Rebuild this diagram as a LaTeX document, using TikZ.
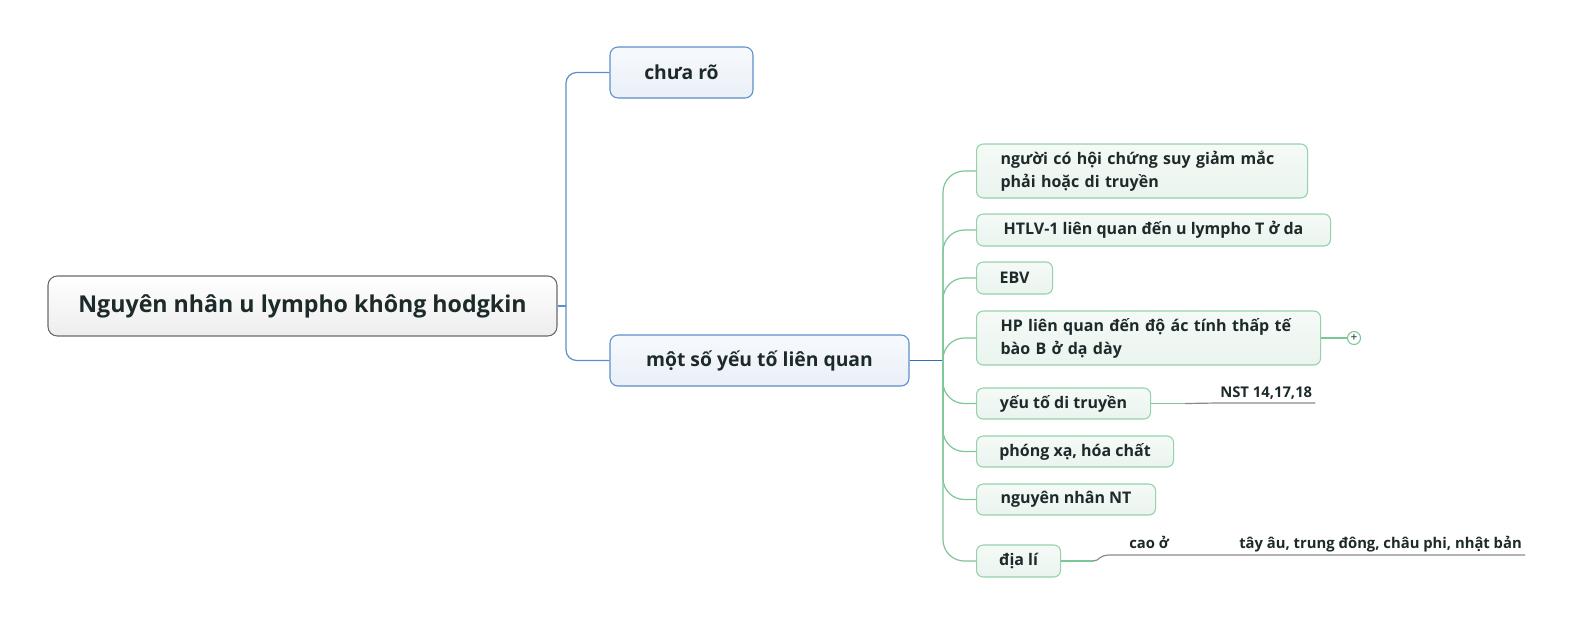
\documentclass[tikz,border=0pt]{standalone}
\usepackage{fontspec}
\setmainfont{Open Sans}
\usepackage{tikz}
\usepackage{xcolor}
\definecolor{inkc}{HTML}{1D2A2A}
\definecolor{rootln}{HTML}{6A6A6A}
\definecolor{rootfill}{HTML}{EDEDED}
\definecolor{blueln}{HTML}{5B8FCB}
\definecolor{bluedk}{HTML}{2F6DB5}
\definecolor{bluetop}{HTML}{F7F9FD}
\definecolor{bluefill}{HTML}{EAF0F8}
\definecolor{greenln}{HTML}{7CC697}
\definecolor{greenbd}{HTML}{95D2AB}
\definecolor{greentop}{HTML}{F5FAF6}
\definecolor{greenfill}{HTML}{EAF4EE}
\definecolor{grayln}{HTML}{8A8A8A}

\begin{document}
\begin{tikzpicture}[x=0.75pt, y=-0.75pt,
    every node/.style={text=inkc, font=\bfseries},
    rootbox/.style={draw=rootln, line width=0.8pt, rounded corners=7pt, top color=white, bottom color=rootfill, font=\bfseries\fontsize{17.4}{20}\selectfont},
    mainbox/.style={draw=blueln, line width=0.8pt, rounded corners=6pt, top color=bluetop, bottom color=bluefill, minimum height=38.25pt, font=\bfseries\fontsize{14.5}{17}\selectfont},
    subbox/.style={draw=greenbd, line width=0.8pt, rounded corners=5pt, top color=greentop, bottom color=greenfill, anchor=west, font=\bfseries\fontsize{12}{17.25}\selectfont},
    note/.style={anchor=south west, inner xsep=2.25pt, text depth=0pt, font=\bfseries\fontsize{11.1}{13}\selectfont},
    blueline/.style={draw=blueln, line width=0.9pt},
    greenline/.style={draw=greenln, line width=0.9pt},
    grayline/.style={draw=grayln, line width=0.9pt}]
    \useasboundingbox (0,0) rectangle (1570,626);

    % Central topic and the two main branches
    \node[rootbox, minimum width=381.75pt, minimum height=45pt] (root) at (302.5,306) {Nguyên nhân u lympho không hodgkin};
    \node[mainbox, minimum width=107.25pt] (chuaro) at (681.5,72.5) {chưa rõ};
    \node[mainbox, minimum width=224.25pt] (motso) at (759.5,360.5) {một số yếu tố liên quan};
    \coordinate (jr) at (566,306);
    \draw[blueline] (root.east) -- (jr);
    \draw[blueline, rounded corners=8pt] (jr) |- (chuaro.west);
    \draw[blueline, rounded corners=8pt] (jr) |- (motso.west);

    % Related factors
    \node[subbox, text width=212.25pt, inner xsep=18pt, minimum height=40.5pt, align=left] (ngcs) at (976,171) {người có hội chứng suy giảm mắc\\phải hoặc di truyền};
    \node[subbox, minimum width=265.5pt, minimum height=24pt] (htlv) at (976,230) {HTLV-1 liên quan đến u lympho T ở da};
    \node[subbox, minimum width=57pt, minimum height=24pt] (ebv) at (976,278) {EBV};
    \node[subbox, text width=222pt, inner xsep=18pt, minimum height=40.5pt, align=left] (hp) at (976,338) {HP liên quan đến độ ác tính thấp tế\\bào B ở dạ dày};
    \node[subbox, minimum width=130.5pt, minimum height=23.25pt] (ditruyen) at (976,403.5) {yếu tố di truyền};
    \node[subbox, minimum width=147.75pt, minimum height=23.25pt] (phongxa) at (976,451.5) {phóng xạ, hóa chất};
    \node[subbox, minimum width=134.25pt, minimum height=23.25pt] (nguyennhan) at (976,499.5) {nguyên nhân NT};
    \node[subbox, minimum width=63pt, minimum height=24pt] (diali) at (976,561) {địa lí};
    \coordinate (jg) at (943,360.5);
    \draw[blueline, draw=bluedk] (motso.east) -- (jg);
    \draw[greenline, rounded corners=16pt] (jg) |- (ngcs.west);
    \draw[greenline, rounded corners=16pt] (jg) |- (htlv.west);
    \draw[greenline, rounded corners=16pt] (jg) |- (ebv.west);
    \draw[greenline, rounded corners=16pt] (jg) |- (hp.west);
    \draw[greenline, rounded corners=16pt] (jg) |- (ditruyen.west);
    \draw[greenline, rounded corners=16pt] (jg) |- (phongxa.west);
    \draw[greenline, rounded corners=16pt] (jg) |- (nguyennhan.west);
    \draw[greenline, rounded corners=16pt] (jg) |- (diali.west);

    % Collapsed marker
    \node[circle, draw=greenln, fill=white, line width=0.8pt, minimum size=9.75pt, inner sep=0pt, font=\fontsize{9}{9}\selectfont] (plus) at (1354,338) {+};
    \draw[greenline] (hp.east) -- (plus);

    % Notes on the right
    \node[note, inner ysep=3.75pt] (nst) at (1217,403) {NST 14,17,18};
    \coordinate (kdt) at (1185,403.5);
    \draw[greenline] (ditruyen.east) -- (kdt);
    \draw[grayline] (kdt) -- (nst.south west) -- (nst.south east);

    \node[note, inner ysep=4.5pt] (caoo) at (1126,555) {cao ở};
    \node[note, inner ysep=4.5pt] (tayau) at (1236,555) {tây âu, trung đông, châu phi, nhật bản};
    \coordinate (kdl) at (1093,561);
    \draw[greenline] (diali.east) -- (kdl);
    \draw[grayline] (kdl) .. controls (1100,561) and (1098,555) .. (1110,555) -- (caoo.south west) -- (caoo.south east) -- (tayau.south west) -- (tayau.south east);
\end{tikzpicture}
\end{document}
